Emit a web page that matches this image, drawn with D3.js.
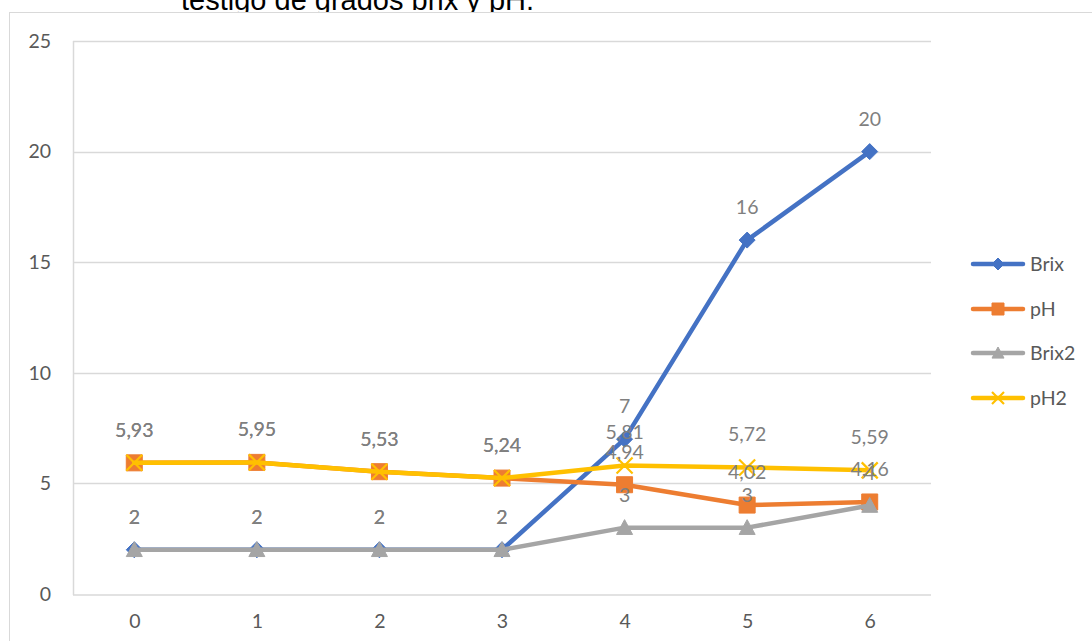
<!DOCTYPE html>
<html>
<head>
<meta charset="utf-8">
<script src="https://cdn.jsdelivr.net/npm/d3@7"></script>
<style>
  html, body { margin: 0; padding: 0; background: #fff; }
  svg { display: block; }
</style>
</head>
<body>
<svg id="chart" width="1092" height="641"></svg>
<script>
// Day index along the x axis
const categories = [0, 1, 2, 3, 4, 5, 6];

// Measured series
const brix  = [2, 2, 2, 2, 7, 16, 20];
const ph    = [5.93, 5.95, 5.53, 5.24, 4.94, 4.02, 4.16];
const brix2 = [2, 2, 2, 2, 3, 3, 4];
const ph2   = [5.93, 5.95, 5.53, 5.24, 5.81, 5.72, 5.59];

const seriesNames = ["Brix", "pH", "Brix2", "pH2"];
const yTicks = [0, 5, 10, 15, 20, 25];
const titleText = "testigo de grados brix y pH.";

const series = [
  { name: seriesNames[0], values: brix,  color: "#4472C4", marker: "diamond" },
  { name: seriesNames[1], values: ph,    color: "#ED7D31", marker: "square" },
  { name: seriesNames[2], values: brix2, color: "#A5A5A5", marker: "triangle" },
  { name: seriesNames[3], values: ph2,   color: "#FFC000", marker: "cross" }
];

const svg = d3.select("#chart");
const W = 1092, H = 641;
const plot = { left: 73, right: 931, top: 41, bottom: 594 };
const FONT = "Lato, 'Open Sans', sans-serif";

// Title sits above the chart frame; the frame's white fill hides its lower part
svg.append("text")
  .attr("x", 181).attr("y", 9.5)
  .attr("font-family", "'Liberation Sans', Arial, sans-serif")
  .attr("font-size", 29)
  .attr("fill", "#000")
  .text(titleText);

svg.append("rect")
  .attr("x", 9.5).attr("y", 12.5)
  .attr("width", W + 20).attr("height", H + 20)
  .attr("fill", "#fff")
  .attr("stroke", "#d9d9d9").attr("stroke-width", 1);

const x = d3.scalePoint().domain(categories).range([plot.left, plot.right]).padding(0.5);
const y = d3.scaleLinear().domain([0, 25]).range([plot.bottom, plot.top]);

// Horizontal gridlines
svg.append("g").selectAll("line")
  .data(yTicks.filter(t => t > 0))
  .join("line")
  .attr("x1", plot.left).attr("x2", plot.right)
  .attr("y1", d => Math.round(y(d)) + 0.5).attr("y2", d => Math.round(y(d)) + 0.5)
  .attr("stroke", "#d9d9d9").attr("stroke-width", 1.5);

// Left frame line and category axis line
svg.append("line")
  .attr("x1", plot.left + 0.5).attr("x2", plot.left + 0.5)
  .attr("y1", plot.top).attr("y2", plot.bottom + 1)
  .attr("stroke", "#d9d9d9").attr("stroke-width", 1.5);
svg.append("line")
  .attr("x1", plot.left).attr("x2", plot.right)
  .attr("y1", plot.bottom + 1).attr("y2", plot.bottom + 1)
  .attr("stroke", "#d9d9d9").attr("stroke-width", 1.5);

// Value axis labels
const yAxis = d3.axisLeft(y).tickValues(yTicks).tickSize(0).tickPadding(0);
const gy = svg.append("g").attr("transform", `translate(51,0)`).call(yAxis);
gy.select(".domain").remove();
gy.selectAll("text")
  .attr("font-family", FONT).attr("font-size", 19.5).attr("fill", "#595959");

// Category axis labels
const xAxis = d3.axisBottom(x).tickSize(0).tickPadding(0);
const gx = svg.append("g").attr("transform", `translate(0,614)`).call(xAxis);
gx.select(".domain").remove();
gx.selectAll("text")
  .attr("font-family", FONT).attr("font-size", 19.5).attr("fill", "#595959");

// Marker shapes
function markerPath(type, s) {
  const h = s / 2;
  switch (type) {
    case "diamond": return `M0,${-h}L${h},0L0,${h}L${-h},0Z`;
    case "square": return `M${-h},${-h}H${h}V${h}H${-h}Z`;
    case "triangle": return `M0,${-h}L${h},${h * 0.85}H${-h}Z`;
    case "cross": return `M${-h},${-h}L${h},${h}M${h},${-h}L${-h},${h}`;
  }
}
function drawMarker(g, type, color, s) {
  const p = g.append("path").attr("d", markerPath(type, s));
  if (type === "cross") {
    p.attr("fill", "none").attr("stroke", color).attr("stroke-width", 2.2);
  } else {
    p.attr("fill", color).attr("stroke", color).attr("stroke-width", 1);
  }
}

const line = d3.line()
  .x((d, i) => x(categories[i]))
  .y(d => y(d));

// Series: line then markers, one series after another
series.forEach(s => {
  const g = svg.append("g");
  g.append("path")
    .attr("d", line(s.values))
    .attr("fill", "none")
    .attr("stroke", s.color)
    .attr("stroke-width", 4.5)
    .attr("stroke-linejoin", "round")
    .attr("stroke-linecap", "round");
  s.values.forEach((v, i) => {
    const mg = g.append("g").attr("transform", `translate(${x(categories[i])},${y(v)})`);
    drawMarker(mg, s.marker, s.color, 16);
  });
});

// Data labels above each point
const fmt = v => String(v).replace(".", ",");
series.forEach(s => {
  svg.append("g").selectAll("text")
    .data(s.values)
    .join("text")
    .attr("x", (d, i) => x(categories[i]))
    .attr("y", d => y(d) - 26)
    .attr("text-anchor", "middle")
    .attr("font-family", FONT).attr("font-size", 19.5)
    .attr("fill", "#7f7f7f")
    .text(d => fmt(d));
});

// Legend
const legendRows = [264, 309, 353, 398];
series.forEach((s, i) => {
  const g = svg.append("g").attr("transform", `translate(0,${legendRows[i]})`);
  g.append("line")
    .attr("x1", 973).attr("x2", 1023)
    .attr("y1", 0).attr("y2", 0)
    .attr("stroke", s.color).attr("stroke-width", 4.5)
    .attr("stroke-linecap", "round");
  const mg = g.append("g").attr("transform", "translate(998,0)");
  drawMarker(mg, s.marker, s.color, 12);
  g.append("text")
    .attr("x", 1030).attr("y", 7)
    .attr("font-family", FONT).attr("font-size", 19.5)
    .attr("fill", "#595959")
    .text(s.name);
});
</script>
</body>
</html>
